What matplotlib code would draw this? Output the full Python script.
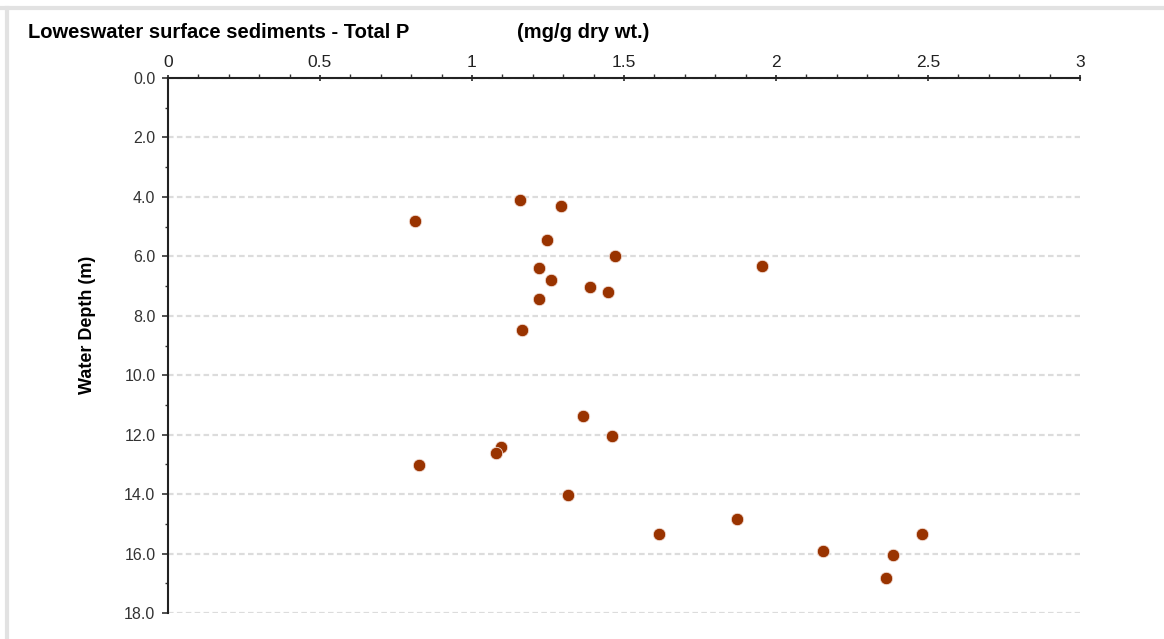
import matplotlib.pyplot as plt
from matplotlib.lines import Line2D
from matplotlib.ticker import MultipleLocator, FormatStrFormatter

# Total P (mg/g dry wt.) against water depth (m)
total_p = [1.158, 1.293, 0.812, 1.247, 1.471, 1.220, 1.954, 1.259, 1.387,
           1.448, 1.220, 1.163, 1.365, 1.460, 1.094, 1.080, 0.825, 1.315,
           1.871, 1.615, 2.479, 2.156, 2.385, 2.362]
depth = [4.12, 4.30, 4.80, 5.44, 6.00, 6.40, 6.33, 6.81, 7.03,
         7.21, 7.44, 8.47, 11.36, 12.05, 12.43, 12.63, 13.02, 14.04,
         14.84, 15.35, 15.35, 15.93, 16.04, 16.83]

x_ticks = [0, 0.5, 1, 1.5, 2, 2.5, 3]
x_labels = ["0", "0.5", "1", "1.5", "2", "2.5", "3"]
y_ticks = [0, 2, 4, 6, 8, 10, 12, 14, 16, 18]

plt.rcParams['font.family'] = ['Liberation Sans', 'DejaVu Sans']

fig = plt.figure(figsize=(11.64, 6.39), dpi=100)
ax = fig.add_axes([0.1443, 0.0407, 0.9278 - 0.1443, 0.8779 - 0.0407])

# light frame around the figure (top and left edges)
fig.add_artist(Line2D([0, 1], [1 - 7.5 / 639, 1 - 7.5 / 639], color='#e2e2e2', lw=3))
fig.add_artist(Line2D([6.5 / 1164, 6.5 / 1164], [0, 1 - 7.5 / 639], color='#e2e2e2', lw=3))

ax.scatter(total_p, depth, s=80, color='#993300', edgecolors='#f4e0d8',
           linewidths=0.6, zorder=3, clip_on=False)

ax.set_xlim(0, 3)
ax.set_ylim(18, 0)

ax.xaxis.tick_top()
ax.set_xticks(x_ticks)
ax.set_xticklabels(x_labels)
ax.xaxis.set_minor_locator(MultipleLocator(0.1))
ax.set_yticks(y_ticks)
ax.yaxis.set_major_formatter(FormatStrFormatter('%.1f'))
ax.yaxis.set_minor_locator(MultipleLocator(1))

ax.tick_params(axis='x', which='major', direction='inout', length=5, width=1.2,
               pad=3, labelsize=12.5, colors='#222222')
ax.tick_params(axis='x', which='minor', direction='out', length=3, width=1, color='#333333')
ax.tick_params(axis='y', which='major', direction='out', length=4, width=1.2,
               pad=5, labelsize=11.5, colors='#333333')
ax.tick_params(axis='y', which='minor', direction='out', length=2.5, width=1, color='#333333')

for side in ['right', 'bottom']:
    ax.spines[side].set_visible(False)
for side in ['left', 'top']:
    ax.spines[side].set_color('#222222')
    ax.spines[side].set_linewidth(1.5)

ax.yaxis.grid(True, which='major', linestyle=(0, (2.5, 1.5)), color='#dcdcdc', linewidth=1.6)
ax.set_axisbelow(True)

ax.set_ylabel("Water Depth (m)", fontsize=13, fontweight='bold')
ax.yaxis.set_label_coords(-0.079, 0.538)

fig.text(28 / 1164, 1 - 33 / 639, "Loweswater surface sediments - Total P",
         fontsize=14.5, fontweight='bold', va='center', ha='left')
fig.text(517 / 1164, 1 - 33 / 639, "(mg/g dry wt.)",
         fontsize=14.5, fontweight='bold', va='center', ha='left')

fig.savefig("out.png", dpi=100)
